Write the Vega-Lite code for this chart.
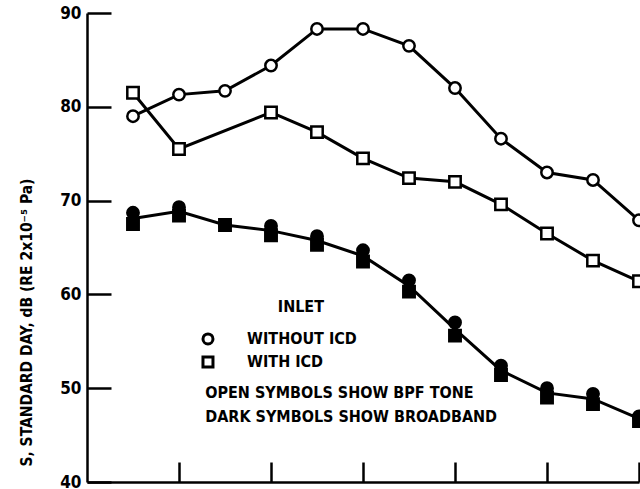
{
  "$schema": "https://vega.github.io/schema/vega-lite/v6.json",
  "width": 552,
  "height": 469,
  "autosize": "none",
  "padding": {"left": 87, "top": 13, "right": 1, "bottom": 7},
  "background": "white",
  "config": {
    "view": {"stroke": null},
    "font": "DejaVu Sans Condensed, DejaVu Sans",
    "text": {"font": "DejaVu Sans Condensed, DejaVu Sans", "fontWeight": "bold"}
  },
  "datasets": {
    "series": [
      {"x": 1, "level": 79.0, "inlet": "WITHOUT ICD", "type": "BPF TONE"},
      {"x": 2, "level": 81.3, "inlet": "WITHOUT ICD", "type": "BPF TONE"},
      {"x": 3, "level": 81.7, "inlet": "WITHOUT ICD", "type": "BPF TONE"},
      {"x": 4, "level": 84.4, "inlet": "WITHOUT ICD", "type": "BPF TONE"},
      {"x": 5, "level": 88.3, "inlet": "WITHOUT ICD", "type": "BPF TONE"},
      {"x": 6, "level": 88.3, "inlet": "WITHOUT ICD", "type": "BPF TONE"},
      {"x": 7, "level": 86.5, "inlet": "WITHOUT ICD", "type": "BPF TONE"},
      {"x": 8, "level": 82.0, "inlet": "WITHOUT ICD", "type": "BPF TONE"},
      {"x": 9, "level": 76.6, "inlet": "WITHOUT ICD", "type": "BPF TONE"},
      {"x": 10, "level": 73.0, "inlet": "WITHOUT ICD", "type": "BPF TONE"},
      {"x": 11, "level": 72.2, "inlet": "WITHOUT ICD", "type": "BPF TONE"},
      {"x": 12, "level": 67.9, "inlet": "WITHOUT ICD", "type": "BPF TONE"},
      {"x": 1, "level": 81.5, "inlet": "WITH ICD", "type": "BPF TONE"},
      {"x": 2, "level": 75.5, "inlet": "WITH ICD", "type": "BPF TONE"},
      {"x": 4, "level": 79.4, "inlet": "WITH ICD", "type": "BPF TONE"},
      {"x": 5, "level": 77.3, "inlet": "WITH ICD", "type": "BPF TONE"},
      {"x": 6, "level": 74.5, "inlet": "WITH ICD", "type": "BPF TONE"},
      {"x": 7, "level": 72.4, "inlet": "WITH ICD", "type": "BPF TONE"},
      {"x": 8, "level": 72.0, "inlet": "WITH ICD", "type": "BPF TONE"},
      {"x": 9, "level": 69.6, "inlet": "WITH ICD", "type": "BPF TONE"},
      {"x": 10, "level": 66.5, "inlet": "WITH ICD", "type": "BPF TONE"},
      {"x": 11, "level": 63.6, "inlet": "WITH ICD", "type": "BPF TONE"},
      {"x": 12, "level": 61.4, "inlet": "WITH ICD", "type": "BPF TONE"},
      {"x": 1, "level": 68.7, "inlet": "WITHOUT ICD", "type": "BROADBAND"},
      {"x": 2, "level": 69.3, "inlet": "WITHOUT ICD", "type": "BROADBAND"},
      {"x": 3, "level": 67.4, "inlet": "WITHOUT ICD", "type": "BROADBAND"},
      {"x": 4, "level": 67.3, "inlet": "WITHOUT ICD", "type": "BROADBAND"},
      {"x": 5, "level": 66.2, "inlet": "WITHOUT ICD", "type": "BROADBAND"},
      {"x": 6, "level": 64.7, "inlet": "WITHOUT ICD", "type": "BROADBAND"},
      {"x": 7, "level": 61.5, "inlet": "WITHOUT ICD", "type": "BROADBAND"},
      {"x": 8, "level": 57.0, "inlet": "WITHOUT ICD", "type": "BROADBAND"},
      {"x": 9, "level": 52.4, "inlet": "WITHOUT ICD", "type": "BROADBAND"},
      {"x": 10, "level": 50.0, "inlet": "WITHOUT ICD", "type": "BROADBAND"},
      {"x": 11, "level": 49.4, "inlet": "WITHOUT ICD", "type": "BROADBAND"},
      {"x": 12, "level": 47.0, "inlet": "WITHOUT ICD", "type": "BROADBAND"},
      {"x": 1, "level": 67.5, "inlet": "WITH ICD", "type": "BROADBAND"},
      {"x": 2, "level": 68.4, "inlet": "WITH ICD", "type": "BROADBAND"},
      {"x": 3, "level": 67.4, "inlet": "WITH ICD", "type": "BROADBAND"},
      {"x": 4, "level": 66.3, "inlet": "WITH ICD", "type": "BROADBAND"},
      {"x": 5, "level": 65.3, "inlet": "WITH ICD", "type": "BROADBAND"},
      {"x": 6, "level": 63.5, "inlet": "WITH ICD", "type": "BROADBAND"},
      {"x": 7, "level": 60.3, "inlet": "WITH ICD", "type": "BROADBAND"},
      {"x": 8, "level": 55.6, "inlet": "WITH ICD", "type": "BROADBAND"},
      {"x": 9, "level": 51.4, "inlet": "WITH ICD", "type": "BROADBAND"},
      {"x": 10, "level": 49.0, "inlet": "WITH ICD", "type": "BROADBAND"},
      {"x": 11, "level": 48.3, "inlet": "WITH ICD", "type": "BROADBAND"},
      {"x": 12, "level": 46.5, "inlet": "WITH ICD", "type": "BROADBAND"}
    ],
    "heading": [
      {"text": "INLET", "x": 4.65, "y": 58.7}
    ],
    "notes": [
      {"text": "WITHOUT ICD", "x": 3.48, "y": 55.25},
      {"text": "WITH ICD", "x": 3.48, "y": 52.8},
      {"text": "OPEN SYMBOLS SHOW BPF TONE", "x": 2.57, "y": 49.5},
      {"text": "DARK SYMBOLS SHOW BROADBAND", "x": 2.57, "y": 46.9}
    ],
    "keys": [
      {"inlet": "WITHOUT ICD", "x": 2.63, "y": 55.25},
      {"inlet": "WITH ICD", "x": 2.63, "y": 52.8}
    ]
  },
  "layer": [
    {
      "data": {"name": "series"},
      "transform": [{"filter": "datum.type === 'BPF TONE'"}],
      "mark": {"type": "line", "color": "black", "strokeWidth": 3},
      "encoding": {
        "x": {
          "field": "x", "type": "quantitative",
          "scale": {"domain": [0, 12], "nice": false, "zero": false},
          "axis": {
            "orient": "bottom", "values": [2, 4, 6, 8, 10, 12], "labels": false,
            "title": null, "grid": false, "tickSize": -20, "tickWidth": 2.5,
            "tickColor": "black", "domainColor": "black", "domainWidth": 2.5
          }
        },
        "y": {
          "field": "level", "type": "quantitative",
          "scale": {"domain": [40, 90], "nice": false, "zero": false},
          "axis": {
            "values": [40, 50, 60, 70, 80, 90], "grid": false,
            "tickSize": -24, "tickWidth": 2.5, "tickColor": "black",
            "domainColor": "black", "domainWidth": 2.5,
            "labelPadding": 30, "labelFont": "DejaVu Sans Condensed, DejaVu Sans",
            "labelFontWeight": "bold", "labelFontSize": 17, "labelColor": "black",
            "title": "S, STANDARD DAY, dB (RE 2x10⁻⁵ Pa)",
            "titleFont": "DejaVu Sans Condensed, DejaVu Sans", "titleFontWeight": "bold",
            "titleFontSize": 15.5, "titleColor": "black",
            "titleAngle": 270, "titleAlign": "right", "titleBaseline": "alphabetic",
            "titleX": -56, "titleY": 165
          }
        },
        "detail": {"field": "inlet"},
        "order": {"field": "x"}
      }
    },
    {
      "data": {"name": "series"},
      "transform": [{"filter": "datum.type === 'BROADBAND'"}],
      "mark": {"type": "line", "color": "black", "strokeWidth": 3},
      "encoding": {
        "x": {"field": "x", "type": "quantitative"},
        "y": {"aggregate": "mean", "field": "level", "type": "quantitative"}
      }
    },
    {
      "data": {"name": "series"},
      "mark": {"type": "point", "filled": true, "stroke": "black", "strokeWidth": 2.5, "size": 130, "opacity": 1},
      "encoding": {
        "x": {"field": "x", "type": "quantitative"},
        "y": {"field": "level", "type": "quantitative"},
        "shape": {"field": "inlet", "type": "nominal", "scale": {"domain": ["WITHOUT ICD", "WITH ICD"], "range": ["circle", "square"]}, "legend": null},
        "fill": {"field": "type", "type": "nominal", "scale": {"domain": ["BPF TONE", "BROADBAND"], "range": ["white", "black"]}, "legend": null}
      }
    },
    {
      "data": {"name": "keys"},
      "mark": {"type": "point", "filled": true, "fill": "white", "stroke": "black", "strokeWidth": 3, "size": 100, "opacity": 1},
      "encoding": {
        "x": {"field": "x", "type": "quantitative"},
        "y": {"field": "y", "type": "quantitative"},
        "shape": {"field": "inlet", "type": "nominal", "legend": null}
      }
    },
    {
      "data": {"name": "heading"},
      "mark": {"type": "text", "align": "center", "baseline": "middle", "fontSize": 16, "fontWeight": "bold", "font": "DejaVu Sans Condensed, DejaVu Sans", "color": "black"},
      "encoding": {
        "x": {"field": "x", "type": "quantitative"},
        "y": {"field": "y", "type": "quantitative"},
        "text": {"field": "text"}
      }
    },
    {
      "data": {"name": "notes"},
      "mark": {"type": "text", "align": "left", "baseline": "middle", "fontSize": 16, "fontWeight": "bold", "font": "DejaVu Sans Condensed, DejaVu Sans", "color": "black"},
      "encoding": {
        "x": {"field": "x", "type": "quantitative"},
        "y": {"field": "y", "type": "quantitative"},
        "text": {"field": "text"}
      }
    }
  ]
}
